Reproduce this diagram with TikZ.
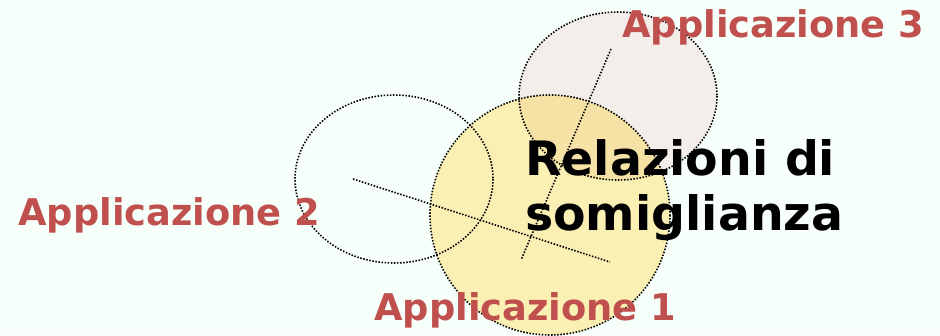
\documentclass[tikz,border=0pt]{standalone}
\usepackage{fontspec}
\setmainfont{DejaVu Sans}
\usetikzlibrary{shapes.geometric}
\definecolor{bgc}{RGB}{247,255,250}
\definecolor{appred}{RGB}{192,80,77}
\definecolor{yel}{RGB}{250,240,180}
\definecolor{pinkc}{RGB}{244,238,235}
\definecolor{ovl}{RGB}{246,226,165}
\definecolor{mintc}{RGB}{247,255,250}
\tikzset{
  dotline/.style={line width=1.6pt, dash pattern=on 1.5pt off 1.6pt, black},
  apptext/.style={text=appred, font=\bfseries\fontsize{36.8}{40}\selectfont, anchor=base west, inner sep=0pt},
  maintext/.style={text=black, font=\bfseries\fontsize{47.4}{54}\selectfont, anchor=base west, inner sep=0pt, align=left},
}
\begin{document}
\begin{tikzpicture}[x=1pt,y=-1pt]
\fill[bgc] (0,0) rectangle (940,335);
\useasboundingbox (0,0) rectangle (940,335);
% fills
\fill[mintc] (394,179) ellipse [x radius=99, y radius=84];
\fill[pinkc] (618,96) ellipse [x radius=99, y radius=84];
\fill[yel] (550,215) circle [radius=120];
\begin{scope}
  \clip (618,96) ellipse [x radius=99, y radius=84];
  \fill[ovl] (550,215) circle [radius=120];
\end{scope}
% outlines as named nodes
\node[ellipse, draw=none, minimum width=198, minimum height=168, inner sep=0] (c2) at (394,179) {};
\node[ellipse, draw=none, minimum width=198, minimum height=168, inner sep=0] (c3) at (618,96) {};
\node[circle, draw=none, minimum size=240, inner sep=0] (c1) at (550,215) {};
\draw[dotline] (394,179) ellipse [x radius=99, y radius=84];
\draw[dotline] (618,96) ellipse [x radius=99, y radius=84];
\draw[dotline] (550,215) circle [radius=120];
% radial lines
\coordinate (l1a) at (353,179);
\coordinate (l1b) at (610,262);
\coordinate (l2a) at (611,49);
\coordinate (l2b) at (521,260);
\draw[dotline] (l1a) -- (l1b);
\draw[dotline] (l2a) -- (l2b);
% texts
\node[apptext] (t3) at (622,37) {Applicazione 3};
\node[apptext] (t2) at (18,225) {Applicazione 2};
\node[apptext] (t1) at (374,320) {Applicazione 1};
\node[maintext] (m1) at (525,175) {Relazioni di};
\node[maintext] (m2) at (525,230) {somiglianza};
\end{tikzpicture}
\end{document}
